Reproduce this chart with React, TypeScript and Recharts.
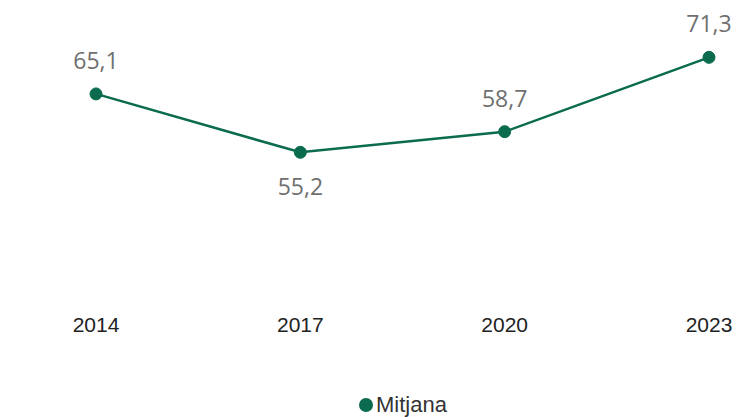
import React from "react";
import { LineChart, Line, XAxis, YAxis, Legend, LabelList } from "recharts";

const years = ["2014", "2017", "2020", "2023"];
const mitjana = [65.1, 55.2, 58.7, 71.3];

const GREEN = "#0b6b4e";

const data = years.map((y, i) => ({ year: y, mitjana: mitjana[i] }));

const fmt = (v: number) => v.toFixed(1).replace(".", ",");

const PointLabel = (props: any) => {
  const { x, y, value, index } = props;
  const prev = mitjana[index - 1];
  const next = mitjana[index + 1];
  const isDip = prev !== undefined && next !== undefined && value < prev && value < next;
  return (
    <text
      x={x}
      y={isDip ? y + 34 : y - 34}
      textAnchor="middle"
      dominantBaseline="central"
      fill="#6f6f6f"
      fontSize={23}
      fontFamily="'Open Sans', 'Noto Sans', sans-serif"
    >
      {fmt(value)}
    </text>
  );
};

const LegendContent = () => (
  <div
    style={{
      display: "flex",
      justifyContent: "center",
      alignItems: "center",
      fontFamily: "'Liberation Sans', Arial, sans-serif",
      fontSize: 22,
      color: "#333",
      height: 24,
    }}
  >
    <svg width={16} height={16} style={{ marginRight: 2 }}>
      <circle cx={8} cy={8} r={7} fill={GREEN} />
    </svg>
    <span>Mitjana</span>
  </div>
);

export default function App() {
  return (
    <div style={{ position: "absolute", left: 0, top: 0, background: "#fff" }}>
      <LineChart width={739} height={417} data={data} margin={{ top: 6, right: 30, left: 96, bottom: 0 }}>
        <XAxis
          dataKey="year"
          axisLine={false}
          tickLine={false}
          height={92}
          tickMargin={10}
          tick={{ fill: "#222", fontSize: 21, fontFamily: "'Liberation Sans', Arial, sans-serif" }}
        />
        <YAxis hide domain={[30, 80]} />
        <Legend verticalAlign="bottom" height={24} content={<LegendContent />} />
        <Line
          type="linear"
          dataKey="mitjana"
          name="Mitjana"
          stroke={GREEN}
          strokeWidth={2.5}
          dot={{ r: 6, fill: GREEN, stroke: GREEN, strokeWidth: 1 }}
          activeDot={false}
          isAnimationActive={false}
        >
          <LabelList dataKey="mitjana" content={<PointLabel />} />
        </Line>
      </LineChart>
    </div>
  );
}
